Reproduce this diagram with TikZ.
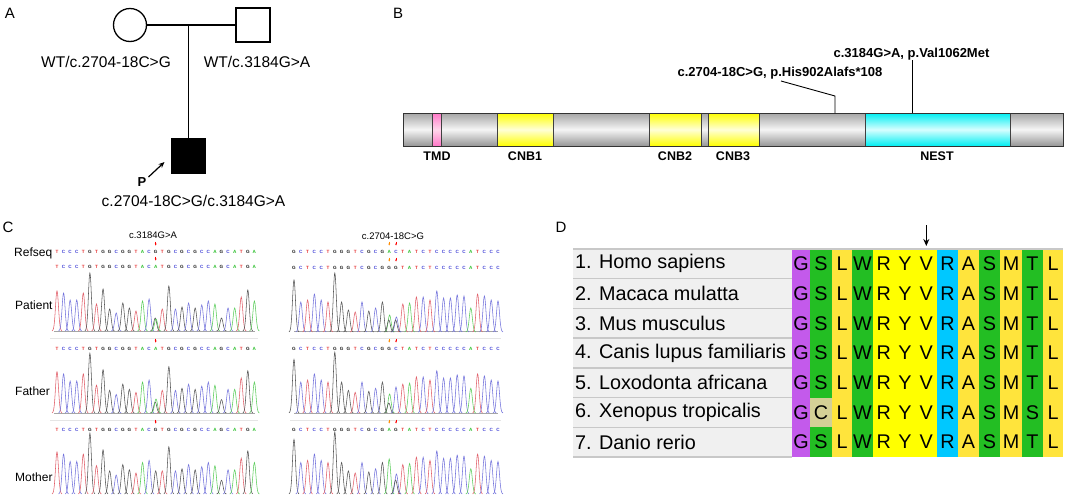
\documentclass[tikz,border=0pt]{standalone}
\usepackage{fontspec}
\setmainfont{Liberation Sans}
\usetikzlibrary{arrows.meta}
\definecolor{nA}{RGB}{40,190,40}
\definecolor{nC}{RGB}{70,70,215}
\definecolor{nG}{RGB}{30,30,30}
\definecolor{nT}{RGB}{230,50,50}
\definecolor{pA}{RGB}{90,205,90}
\definecolor{pC}{RGB}{115,115,220}
\definecolor{pG}{RGB}{85,85,85}
\definecolor{pT}{RGB}{225,95,105}
\definecolor{sgtop}{RGB}{165,165,165}
\definecolor{sgmid}{RGB}{245,245,245}
\definecolor{sgbot}{RGB}{150,150,150}
\definecolor{sytop}{RGB}{255,255,0}
\definecolor{symid}{RGB}{255,255,215}
\definecolor{sctop}{RGB}{0,238,242}
\definecolor{scmid}{RGB}{215,255,255}
\definecolor{sptop}{RGB}{255,120,200}
\definecolor{spmid}{RGB}{255,215,235}
\definecolor{cpurp}{RGB}{195,90,235}
\definecolor{cgrn}{RGB}{35,190,35}
\definecolor{clyel}{RGB}{255,228,60}
\definecolor{cyel}{RGB}{255,255,0}
\definecolor{ccyan}{RGB}{0,200,255}
\definecolor{ckhaki}{RGB}{212,208,150}
\definecolor{cellgray}{RGB}{240,240,240}
\definecolor{tabline}{RGB}{200,200,200}
\newcommand\fsz[1]{\fontsize{#1}{#1}\selectfont}
\newcommand\pk[4]{\draw[color=#4,line width=0.55pt] plot[domain=-5:5,samples=21,smooth] ({#1+\x},{#2-(#3)*exp(-(\x*\x)/4.5)});}
\begin{document}
\begin{tikzpicture}[x=1pt,y=-1pt,
  lbl/.style={inner sep=0pt,font=\fsz{15.5}},
  plab/.style={inner sep=0pt,font=\fsz{15}},
  ped/.style={draw,line width=1.3pt,inner sep=0pt,minimum size=34pt},
  seg/.style={draw=black!75,line width=0.7pt},
  segG/.style={seg,top color=sgtop,bottom color=sgbot,middle color=sgmid},
  segY/.style={seg,top color=sytop,bottom color=sytop,middle color=symid},
  segC/.style={seg,top color=sctop,bottom color=sctop,middle color=scmid},
  segP/.style={seg,top color=sptop,bottom color=sptop,middle color=spmid},
  dom/.style={inner sep=0pt,font=\fsz{12.5}\bfseries},
  mut/.style={inner sep=0pt,font=\fsz{13}\bfseries},
  seqlet/.style={inner sep=0pt,font=\fsz{4.6}\bfseries},
  clab/.style={inner sep=0pt,font=\fsz{12},anchor=west},
  chead/.style={inner sep=0pt,font=\fsz{9.5}},
  mutarrow/.style={-{Stealth[length=2pt,width=1.8pt]},line width=0.45pt},
  spn/.style={inner sep=0pt,font=\fsz{19.8},anchor=west},
  aa/.style={inner sep=0pt,font=\fsz{19.8}}
]
\fill[white] (0,0) rectangle (1065,496);
\useasboundingbox (0,0) rectangle (1065,496);

% ---------------- Panel A ----------------
\node[plab] (pA) at (10,13) {A};
\node[ped,circle,minimum size=33pt] (mom) at (130,25) {};
\node[ped,rectangle] (dad) at (253,25) {};
\node[ped,rectangle,fill=black] (pt) at (188.5,156) {};
\draw[line width=1.3pt] (mom.east) -- (dad.west);
\coordinate (sib) at (188.5,25);
\draw[line width=1.3pt] (sib) -- (pt.north);
\node[lbl] (lmom) at (106,62) {WT/c.2704-18C>G};
\node[lbl] (ldad) at (257,62) {WT/c.3184G>A};
\node[lbl] (lpt) at (193.5,201) {c.2704-18C>G/c.3184G>A};
\node[inner sep=0pt,font=\fsz{13}\bfseries] (P) at (142,182) {P};
\coordinate (pa0) at (148.5,177);
\coordinate (pa1) at (164.5,162);
\draw[line width=1.2pt,-{Stealth[length=6pt,width=5pt]}] (pa0) -- (pa1);

% ---------------- Panel B ----------------
\node[plab] (pB) at (398,13) {B};
\draw[segG] (403,113) rectangle (432,146);
\draw[segP] (432,113) rectangle (441,146);
\draw[segG] (441,113) rectangle (497,146);
\draw[segY] (497,113) rectangle (553,146);
\draw[segG] (553,113) rectangle (649,146);
\draw[segY] (649,113) rectangle (701,146);
\draw[segG] (701,113) rectangle (708,146);
\draw[segY] (708,113) rectangle (759,146);
\draw[segG] (759,113) rectangle (865,146);
\draw[segC] (865,113) rectangle (1010,146);
\draw[segG] (1010,113) rectangle (1063,146);
\draw[black!80,line width=0.8pt] (403,113) rectangle (1063,146);
\node[dom] (tmd) at (437,156) {TMD};
\node[dom] (cnb1) at (525,156) {CNB1};
\node[dom] (cnb2) at (675,156) {CNB2};
\node[dom] (cnb3) at (733,156) {CNB3};
\node[dom] (nest) at (937,156) {NEST};
\node[mut] (lab1) at (911.5,54) {c.3184G>A, p.Val1062Met};
\node[mut] (lab2) at (780,73) {c.2704-18C>G, p.His902Alafs*108};
\coordinate (m1) at (835,113);
\coordinate (m2) at (912,113);
\coordinate (k1) at (781,81);
\draw[line width=0.9pt] (m2) -- (lab1.south -| m2);
\draw[line width=0.9pt] (m1) -- ++(0,-17) -- (k1);

% ---------------- Panel C ----------------
\node[plab] (pC) at (8,227) {C};
\node[chead] (h1) at (153,235) {c.3184G>A};
\node[chead] (h2) at (393,236) {c.2704-18C>G};
\node[clab] (rs) at (14,253) {Refseq};
\node[clab] (rpat) at (15,305) {Patient};
\node[clab] (rfat) at (15,391) {Father};
\node[clab] (rmot) at (15,477) {Mother};
\foreach \xa/\xb in {50/258,290/501}{
  \draw[black!10,line width=1pt] (\xa,338) -- (\xb,338);
  \draw[black!10,line width=1pt] (\xa,420) -- (\xb,420);
  \draw[black!35,line width=0.35pt] (\xa+4,331.5) -- (\xb-3,331.5);
  \draw[black!35,line width=0.35pt] (\xa+4,413.5) -- (\xb-3,413.5);
}
\begin{scope}
\clip (0,240) rectangle (1065,496);
% left column
\foreach \b/\h [count=\i] in {T/40,C/38,C/31,C/31,T/38,G/58,T/27,G/42,G/22,C/18,G/28,G/23,T/20,A/30,C/32,G/22,T/22,G/45,C/22,G/24,C/28,G/23,C/26,C/30,A/27,G/13,C/23,A/23,T/34,G/41,A/30}{
  \pgfmathsetmacro\xx{57+(\i-1)*6.58}
  \node[seqlet,text=n\b] at (\xx,252) {\b};
  \ifnum\i=16\relax\else
    \node[seqlet,text=n\b] at (\xx,267) {\b};
    \node[seqlet,text=n\b] at (\xx,349) {\b};
    \pk{\xx}{331}{\h}{p\b}
    \pk{\xx}{413}{\h*1.03}{p\b}
  \fi
  \node[seqlet,text=n\b] at (\xx,430) {\b};
  \pk{\xx}{494}{\h*1.05}{p\b}
}
\node[seqlet,text=nA] at (155.7,267) {A};
\node[seqlet,text=nA] at (155.7,349) {A};
\pk{155.2}{331}{13}{pG}
\pk{156.0}{331}{12}{pA}
\pk{155.2}{413}{11}{pG}
\pk{156.0}{413}{14}{pA}
\foreach \yy in {245.5,260.5,342.5,423.5}{
  \draw[mutarrow,red] (155.7,\yy-4) -- (155.7,\yy);
}
% right column
\foreach \b/\h [count=\i] in {G/52,C/30,T/32,C/38,C/32,T/30,G/59,G/30,G/22,T/20,C/30,G/21,C/24,G/30,A/35,C/30,T/28,A/29,T/35,C/35,T/32,C/41,C/34,C/34,C/37,C/36,A/24,T/38,C/36,C/32,C/31}{
  \pgfmathsetmacro\xx{294+(\i-1)*6.8}
  \pgfmathtruncatemacro\spc{(\i==15)||(\i==16)}
  \node[seqlet,text=n\b] at (\xx,252) {\b};
  \ifnum\spc=0
    \node[seqlet,text=n\b] at (\xx,268) {\b};
    \node[seqlet,text=n\b] at (\xx,349) {\b};
    \node[seqlet,text=n\b] at (\xx,430) {\b};
    \pk{\xx}{332}{\h}{p\b}
    \pk{\xx}{413}{\h*1.03}{p\b}
    \pk{\xx}{494}{\h*1.05}{p\b}
  \fi
}
\node[seqlet,text=nG] at (389.2,268) {G};
\node[seqlet,text=nG] at (396,268) {G};
\node[seqlet,text=nG] at (389.2,349) {G};
\node[seqlet,text=nC] at (396,349) {C};
\node[seqlet,text=nA] at (389.2,430) {A};
\node[seqlet,text=nG] at (396,430) {G};
\pk{389.6}{332}{17}{pA}
\pk{388.8}{332}{12}{pG}
\pk{396.4}{332}{15}{pC}
\pk{395.6}{332}{12}{pG}
\pk{389.6}{413}{19}{pA}
\pk{388.8}{413}{10}{pG}
\pk{396}{413}{26}{pC}
\pk{389.2}{494}{35}{pA}
\pk{396.4}{494}{20}{pC}
\pk{395.6}{494}{14}{pG}
\foreach \yy in {245.5,261.5,342.5,423.5}{
  \draw[mutarrow,orange!90!yellow] (389.2,\yy-4) -- (389.2,\yy);
  \draw[mutarrow,red] (396,\yy-4) -- (396,\yy);
}
\end{scope}

% ---------------- Panel D ----------------
\node[plab] (pD) at (561,227) {D};
\fill[cellgray] (573,249) rectangle (792,457);
\foreach \k in {1,...,6}{
  \draw[tabline,line width=1.4pt] (573,{249+\k*29.7}) -- (792,{249+\k*29.7});
}
\fill[cpurp] (792,249) rectangle (810,457);
\fill[cgrn] (810,249) rectangle (832,457);
\fill[clyel] (832,249) rectangle (852,457);
\fill[cgrn] (852,249) rectangle (873,457);
\fill[cyel] (873,249) rectangle (937,457);
\fill[ccyan] (937,249) rectangle (958,457);
\fill[clyel] (958,249) rectangle (979,457);
\fill[cgrn] (979,249) rectangle (1000,457);
\fill[clyel] (1000,249) rectangle (1022,457);
\fill[cgrn] (1022,249) rectangle (1043,457);
\fill[clyel] (1043,249) rectangle (1063,457);
\fill[ckhaki] (810,397.5) rectangle (832,427.2);
\draw[tabline,line width=1.2pt] (573,249) -- (1063,249);
\draw[tabline,line width=1.2pt] (573,457) -- (792,457);
\foreach \r/\nm in {1/1. Homo sapiens,2/2. Macaca mulatta,3/3. Mus musculus,4/4. Canis lupus familiaris,5/5. Loxodonta africana,6/6. Xenopus tropicalis,7/7. Danio rerio}{
  \node[spn] (sp\r) at (575,{249+(\r-0.5)*29.7}) {\nm};
}
\foreach \c/\xc [count=\j] in {G/801,S/821,L/842,W/862.5,R/883.7,Y/905,V/926.3,R/947.5,A/968.5,S/989.5,M/1011,T/1032.5,L/1053}{
  \foreach \r in {1,...,7}{
    \pgfmathtruncatemacro\skp{(\r==6)&&((\j==2)||(\j==12))}
    \ifnum\skp=0
      \node[aa] at (\xc,{249+(\r-0.5)*29.7}) {\c};
    \fi
  }
}
\node[aa] (x6c) at (821,412.4) {C};
\node[aa] (x6s) at (1032.5,412.4) {S};
\coordinate (ar0) at (926.3,225);
\coordinate (ar1) at (926.3,246);
\draw[line width=1.5pt,-{Stealth[length=7pt,width=6pt]}] (ar0) -- (ar1);
\end{tikzpicture}
\end{document}
